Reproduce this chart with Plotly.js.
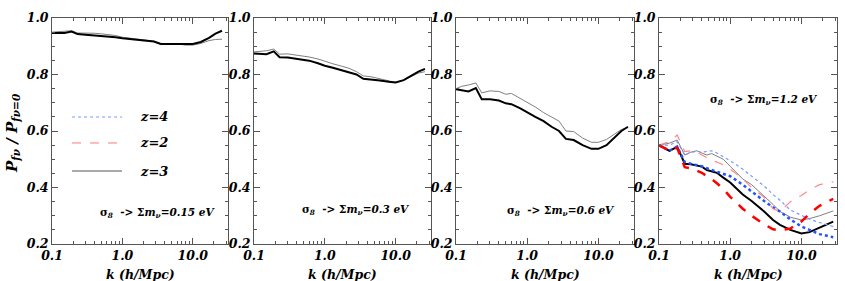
<!DOCTYPE html>
<html>
<head>
<meta charset="utf-8">
<script src="https://cdn.plot.ly/plotly-3.0.1.min.js"></script>
<style>html,body{margin:0;padding:0;background:#fff;}#plot{width:845px;height:281px;}</style>
</head>
<body>
<div id="plot"></div>
<script>
// ---- data ----
const kA = [0.1,0.12,0.15,0.19,0.23,0.3,0.4,0.5,0.6,0.8,1.0,1.3,1.7,2.2,2.8,3.5,4.5,6,8,10,13,17,21,26];
const p1Thick = [0.947,0.947,0.947,0.952,0.943,0.941,0.939,0.937,0.935,0.932,0.928,0.925,0.922,0.920,0.917,0.908,0.908,0.907,0.906,0.908,0.915,0.930,0.945,0.955];
const p1Thin  = [0.950,0.952,0.953,0.955,0.947,0.947,0.946,0.944,0.942,0.938,0.932,0.928,0.925,0.922,0.918,0.910,0.910,0.908,0.904,0.904,0.910,0.920,0.924,0.925];
const p2Thick = [0.874,0.873,0.872,0.882,0.861,0.860,0.856,0.852,0.849,0.840,0.831,0.824,0.816,0.808,0.800,0.785,0.783,0.779,0.774,0.772,0.780,0.798,0.810,0.820];
const p2Thin  = [0.880,0.882,0.884,0.890,0.872,0.873,0.869,0.866,0.862,0.855,0.846,0.838,0.830,0.822,0.810,0.795,0.792,0.784,0.776,0.772,0.780,0.795,0.805,0.810];
const p3Thick = [0.748,0.745,0.740,0.752,0.712,0.712,0.708,0.698,0.695,0.680,0.665,0.650,0.635,0.615,0.600,0.572,0.568,0.550,0.537,0.537,0.550,0.578,0.600,0.615];
const p3Thin  = [0.750,0.758,0.763,0.770,0.735,0.742,0.740,0.730,0.733,0.715,0.700,0.685,0.665,0.650,0.635,0.600,0.598,0.575,0.560,0.560,0.570,0.590,0.605,0.612];
const kB = [0.1,0.14,0.18,0.23,0.28,0.34,0.4,0.47,0.55,0.65,0.8,1.0,1.5,2,3,4,5,7,10,13,18,28];
const p4BlackThick = [0.550,0.530,0.544,0.484,0.482,0.478,0.474,0.462,0.458,0.452,0.435,0.418,0.375,0.352,0.315,0.285,0.268,0.250,0.237,0.242,0.258,0.279];
const p4GrayThin   = [0.550,0.557,0.568,0.515,0.525,0.530,0.522,0.515,0.520,0.512,0.500,0.475,0.430,0.410,0.370,0.340,0.315,0.295,0.285,0.290,0.300,0.317];
const p4BlueThin   = [0.550,0.550,0.562,0.515,0.525,0.528,0.525,0.527,0.530,0.522,0.510,0.495,0.465,0.440,0.405,0.375,0.355,0.320,0.300,0.288,0.276,0.262];
const p4BlueThick  = [0.550,0.530,0.545,0.490,0.484,0.480,0.475,0.468,0.462,0.456,0.450,0.440,0.410,0.385,0.352,0.330,0.315,0.287,0.262,0.250,0.235,0.224];
const p4RedThin    = [0.550,0.562,0.586,0.527,0.530,0.525,0.515,0.505,0.497,0.490,0.480,0.465,0.430,0.400,0.365,0.325,0.315,0.350,0.372,0.392,0.410,0.420];
const p4RedThick   = [0.550,0.530,0.540,0.472,0.468,0.460,0.452,0.440,0.430,0.415,0.395,0.367,0.325,0.300,0.270,0.252,0.248,0.255,0.280,0.307,0.335,0.360];
const xTickVals = [0.1, 1, 10];
const xTickText = ['0.1', '1.0', '10.0'];
const xMinorVals = [0.2,0.3,0.4,0.5,0.6,0.7,0.8,0.9,2,3,4,5,6,7,8,9,20,30];
const panelLabels = ['0.15', '0.3', '0.6', '1.2'];
const legendLabels = ['z=4', 'z=2', 'z=3'];
const xTitle = 'k (h/Mpc)';
const yTitle = 'P<sub>fν</sub> / P<sub>fν=0</sub>';

// ---- style ----
const FAM = 'DejaVu Serif';
const W = 845, H = 281;
const xd = [[52,228],[254,431],[456,634],[659,837]];
const yDom = [(H-244)/H, (H-18)/H];

function tr(x, y, ax, color, width, dash) {
  return {x: x, y: y, type: 'scatter', mode: 'lines', xaxis: 'x'+ax, yaxis: 'y'+ax,
          line: {color: color, width: width, dash: dash || 'solid'}, showlegend: false, hoverinfo: 'skip'};
}
const data = [
  tr(kA, p1Thin, '', '#808080', 1), tr(kA, p1Thick, '', '#000', 2),
  tr(kA, p2Thin, '2', '#808080', 1), tr(kA, p2Thick, '2', '#000', 2),
  tr(kA, p3Thin, '3', '#808080', 1), tr(kA, p3Thick, '3', '#000', 2),
  tr(kB, p4GrayThin, '4', '#808080', 1), tr(kB, p4BlackThick, '4', '#000', 2),
  tr(kB, p4BlueThin, '4', '#7799ff', 1.2, 'dot'), tr(kB, p4BlueThick, '4', '#2255ff', 2.5, 'dot'),
  tr(kB, p4RedThin, '4', '#ff8888', 1.2, 'dash'), tr(kB, p4RedThick, '4', '#ff0000', 2.5, 'dash')
];

function f(size) { return {family: FAM, size: size, color: '#000', weight: 'bold', style: 'italic'}; }
const layout = {
  width: W, height: H, margin: {l:0, r:0, t:0, b:0},
  paper_bgcolor: '#fff', plot_bgcolor: '#fff', showlegend: false,
  font: f(12),
  annotations: [], shapes: []
};
for (let i = 0; i < 4; i++) {
  const s = i === 0 ? '' : String(i+1);
  layout['xaxis'+s] = {
    type: 'log', range: [-1, 1.5], domain: [xd[i][0]/W, xd[i][1]/W], anchor: 'y'+s,
    tickvals: xTickVals, ticktext: xTickText, ticks: 'inside', ticklen: 6, tickcolor: '#555',
    minor: {tickvals: xMinorVals, ticks: 'inside', ticklen: 3, tickcolor: '#555'},
    showline: true, linecolor: '#555', linewidth: 1, mirror: 'ticks', showgrid: false, zeroline: false,
    tickfont: f(12.5)
  };
  layout['yaxis'+s] = {
    range: [0.2, 1.0], domain: yDom, anchor: 'x'+s, dtick: 0.2, tickformat: '.1f',
    ticks: 'inside', ticklen: 6, tickcolor: '#555',
    minor: {dtick: 0.05, ticks: 'inside', ticklen: 3, tickcolor: '#555'},
    showline: true, linecolor: '#555', linewidth: 1, mirror: 'ticks', showgrid: false, zeroline: false,
    tickfont: f(12.5)
  };
  layout.annotations.push({
    xref: 'x'+s+' domain', yref: 'paper', x: 0.5, y: (H-274)/H, xanchor: 'center', yanchor: 'middle',
    showarrow: false, text: xTitle, font: f(12.5)
  });
}
const annPos = [[0.94, 0.137], [0.893, 0.15], [0.904, 0.146], [0.904, 0.637]];
for (let i = 0; i < 4; i++) {
  const s = i === 0 ? '' : String(i+1);
  layout.annotations.push({
    xref: 'x'+s+' domain', yref: 'y'+s+' domain', x: annPos[i][0], y: annPos[i][1],
    xanchor: 'right', yanchor: 'middle', showarrow: false,
    text: '<span style="font-style:normal">σ</span><sub>8</sub>  -> <span style="font-style:normal">Σ</span>m<sub>ν</sub>=' + panelLabels[i] + ' eV',
    font: f(10.5)
  });
}
layout.annotations.push({
  xref: 'paper', yref: 'paper', x: 12/W, y: (H-133)/H, textangle: -90, showarrow: false,
  xanchor: 'center', yanchor: 'middle', text: yTitle, font: f(15)
});
const legY = [0.562, 0.447, 0.323];
const legStyle = [['#7799ff', 'dot'], ['#ff7777', 'dash'], ['#555555', 'solid']];
for (let j = 0; j < 3; j++) {
  layout.shapes.push({type: 'line', xref: 'x domain', yref: 'y domain', x0: 0.114, x1: 0.398, y0: legY[j], y1: legY[j],
    line: {color: legStyle[j][0], width: 1, dash: legStyle[j][1]}});
  layout.annotations.push({xref: 'x domain', yref: 'y domain', x: 0.489, y: legY[j], xanchor: 'left', yanchor: 'middle',
    showarrow: false, text: legendLabels[j], font: f(13)});
}
Plotly.newPlot('plot', data, layout, {staticPlot: true});
</script>
</body>
</html>
